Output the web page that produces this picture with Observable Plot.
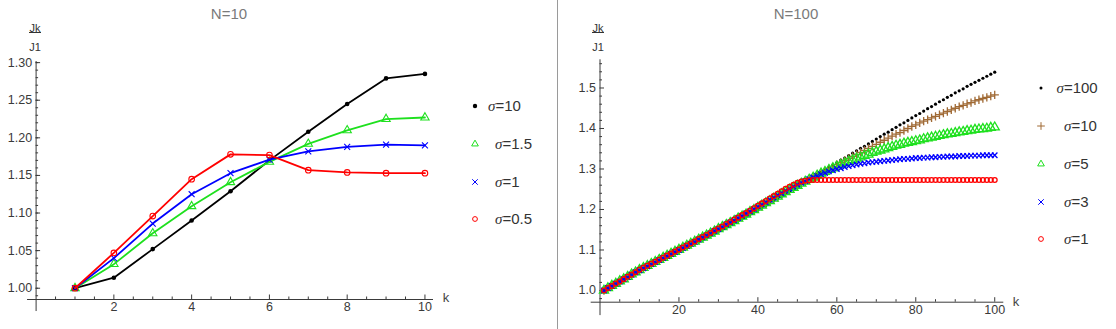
<!DOCTYPE html>
<html><head><meta charset="utf-8">
<script src="https://cdn.jsdelivr.net/npm/d3@7"></script>
<script src="https://cdn.jsdelivr.net/npm/@observablehq/plot@0.6"></script>
<style>
body{margin:0;background:#fff;}
#root{position:relative;width:1116px;height:329px;overflow:hidden;font-family:"Liberation Sans",Arial,sans-serif;background:#fff;}
.panel{position:absolute;top:0;}
.panel text{font-size:12.5px !important;}
.title{position:absolute;font-size:15px;color:#7a7a7a;transform:translate(-50%,-50%);white-space:nowrap;line-height:1;}
.fr{position:absolute;font-size:11px;color:#333;transform:translate(-50%,-50%);line-height:1;white-space:nowrap;}
.ul{position:absolute;height:1px;background:#333;}
.klab{position:absolute;font-size:13px;color:#444;transform:translate(-50%,-50%);line-height:1;}
.leg{position:absolute;font-size:15px;color:#333;line-height:1;transform:translateY(-50%);white-space:nowrap;}
.leg i{font-family:"Liberation Serif","DejaVu Serif",serif;}
.mk{position:absolute;}
.sep{position:absolute;left:557px;top:0;width:1px;height:329px;background:#9a9a9a;}
</style>
</head><body>
<div id="root"></div>
<script>
// ---------- DATA ----------
const kN10 = [1, 2, 3, 4, 5, 6, 7, 8, 9, 10];
const n10Sigma10  = [1.000, 1.014, 1.052, 1.090, 1.129, 1.170, 1.208, 1.245, 1.279, 1.285];
const n10Sigma1_5 = [1.000, 1.032, 1.073, 1.109, 1.141, 1.168, 1.192, 1.210, 1.225, 1.227];
const n10Sigma1   = [1.000, 1.040, 1.086, 1.125, 1.153, 1.171, 1.182, 1.188, 1.191, 1.190];
const n10Sigma0_5 = [1.000, 1.047, 1.096, 1.145, 1.178, 1.177, 1.157, 1.154, 1.153, 1.153];

const kN100 = d3.range(1, 101);
const n100Sigma100 = [
1.000,1.005,1.010,1.015,1.021,1.026,1.031,1.036,1.042,1.047,
1.052,1.057,1.062,1.067,1.071,1.076,1.081,1.086,1.091,1.096,
1.101,1.106,1.111,1.116,1.121,1.126,1.131,1.136,1.141,1.146,
1.151,1.156,1.162,1.167,1.172,1.178,1.183,1.188,1.194,1.199,
1.205,1.210,1.216,1.222,1.227,1.233,1.239,1.245,1.251,1.257,
1.263,1.269,1.275,1.281,1.287,1.292,1.298,1.304,1.310,1.316,
1.322,1.327,1.333,1.339,1.345,1.351,1.356,1.362,1.368,1.374,
1.380,1.386,1.391,1.397,1.403,1.409,1.414,1.420,1.426,1.432,
1.437,1.443,1.449,1.454,1.460,1.466,1.471,1.477,1.482,1.488,
1.493,1.498,1.504,1.509,1.514,1.519,1.524,1.529,1.534,1.539];
const n100Sigma10 = [
1.000,1.006,1.011,1.017,1.022,1.028,1.033,1.039,1.044,1.050,
1.055,1.060,1.065,1.070,1.075,1.080,1.085,1.090,1.095,1.100,
1.105,1.110,1.115,1.120,1.125,1.130,1.135,1.140,1.145,1.150,
1.155,1.160,1.166,1.171,1.176,1.181,1.187,1.192,1.197,1.203,
1.208,1.214,1.219,1.225,1.230,1.236,1.241,1.247,1.252,1.258,
1.263,1.268,1.274,1.279,1.284,1.290,1.295,1.300,1.305,1.311,
1.316,1.321,1.326,1.331,1.336,1.341,1.346,1.351,1.356,1.361,
1.366,1.371,1.376,1.381,1.386,1.390,1.395,1.400,1.405,1.409,
1.414,1.418,1.422,1.426,1.430,1.434,1.438,1.442,1.446,1.450,
1.454,1.457,1.461,1.464,1.468,1.471,1.474,1.477,1.480,1.483];
const n100Sigma5 = [
1.000,1.006,1.012,1.017,1.023,1.028,1.034,1.040,1.045,1.051,
1.056,1.061,1.066,1.071,1.076,1.081,1.086,1.091,1.096,1.101,
1.106,1.111,1.116,1.121,1.126,1.131,1.136,1.141,1.146,1.152,
1.157,1.162,1.167,1.172,1.178,1.183,1.188,1.194,1.199,1.205,
1.210,1.216,1.221,1.227,1.232,1.238,1.243,1.249,1.254,1.259,
1.264,1.269,1.274,1.279,1.284,1.289,1.293,1.298,1.302,1.306,
1.310,1.314,1.318,1.322,1.326,1.329,1.333,1.336,1.340,1.343,
1.346,1.349,1.352,1.355,1.358,1.360,1.363,1.365,1.367,1.369,
1.371,1.374,1.376,1.378,1.380,1.382,1.384,1.386,1.387,1.389,
1.391,1.392,1.394,1.395,1.397,1.398,1.399,1.400,1.402,1.403];
const n100Sigma3 = [
1.000,1.006,1.011,1.017,1.022,1.028,1.033,1.039,1.045,1.050,
1.055,1.060,1.065,1.070,1.075,1.080,1.085,1.090,1.095,1.100,
1.105,1.110,1.115,1.120,1.126,1.131,1.136,1.141,1.147,1.152,
1.157,1.163,1.168,1.173,1.179,1.184,1.190,1.195,1.201,1.207,
1.212,1.218,1.224,1.229,1.235,1.240,1.246,1.251,1.256,1.261,
1.266,1.270,1.275,1.279,1.283,1.287,1.290,1.294,1.297,1.300,
1.302,1.305,1.307,1.309,1.311,1.313,1.314,1.316,1.317,1.318,
1.319,1.320,1.321,1.322,1.323,1.324,1.325,1.325,1.326,1.327,
1.327,1.328,1.328,1.329,1.329,1.330,1.330,1.331,1.331,1.331,
1.332,1.332,1.332,1.333,1.333,1.333,1.334,1.334,1.334,1.334];
const n100Sigma1 = [
1.000,1.006,1.011,1.017,1.022,1.028,1.034,1.039,1.045,1.051,
1.056,1.061,1.066,1.071,1.076,1.081,1.086,1.091,1.096,1.101,
1.106,1.111,1.116,1.121,1.127,1.132,1.137,1.142,1.148,1.153,
1.158,1.164,1.169,1.175,1.180,1.186,1.191,1.197,1.203,1.209,
1.215,1.221,1.227,1.233,1.239,1.245,1.251,1.256,1.261,1.266,
1.269,1.271,1.272,1.273,1.273,1.273,1.273,1.273,1.273,1.273,
1.273,1.273,1.273,1.273,1.273,1.273,1.273,1.273,1.273,1.273,
1.273,1.273,1.273,1.273,1.273,1.273,1.273,1.273,1.273,1.273,
1.273,1.273,1.273,1.273,1.273,1.273,1.273,1.273,1.273,1.273,
1.273,1.273,1.273,1.273,1.273,1.273,1.273,1.273,1.273,1.273];

const n10Labels = ["10", "1.5", "1", "0.5"];
const n100Labels = ["100", "10", "5", "3", "1"];
const n10XTicks = [2, 4, 6, 8, 10];
const n10YTicks = [1.00, 1.05, 1.10, 1.15, 1.20, 1.25, 1.30];
const n100XTicks = [20, 40, 60, 80, 100];
const n100YTicks = [1.0, 1.1, 1.2, 1.3, 1.4, 1.5];

// ---------- STYLES ----------
const STY = {
  black: {color: "#000000", symbol: "circle", filled: true},
  brown: {color: "#a06a35", symbol: "plus"},
  green: {color: "#1ee01e", symbol: "triangle"},
  blue:  {color: "#0000ff", symbol: "times"},
  red:   {color: "#ff0000", symbol: "circle"}
};
const symMap = {circle: d3.symbolCircle, triangle: d3.symbolTriangle2, times: d3.symbolTimes, plus: d3.symbolPlus};

function rows(ks, vs) { return ks.map((k, i) => ({k, v: vs[i]})); }

function makePanel(cfg) {
  const fh = cfg.height - cfg.mt - cfg.mb;
  const fw = cfg.width - cfg.ml - cfg.mr;
  const ax = "#3a3a3a";
  const marks = [
    Plot.ruleY([cfg.xAxisAt], {x1: cfg.xExt[0], x2: cfg.xExt[1], stroke: ax, strokeWidth: 1}),
    Plot.ruleX([0], {y1: cfg.yExt[0], y2: cfg.yExt[1], stroke: ax, strokeWidth: 1}),
    Plot.tickX(cfg.xMinor, {x: d => d, insetTop: fh - 2.5, stroke: ax}),
    Plot.tickX(cfg.xMajor, {x: d => d, insetTop: fh - 4.5, stroke: ax}),
    Plot.tickY(cfg.yMinor, {y: d => d, insetRight: fw - 2.5, stroke: ax}),
    Plot.tickY(cfg.yMajor, {y: d => d, insetRight: fw - 4.5, stroke: ax}),
    Plot.axisX({ticks: cfg.xMajor, tickSize: 0, tickPadding: 3, label: null, color: "#3a3a3a", fontSize: 12.5}),
    Plot.axisY({ticks: cfg.yMajor, tickSize: 0, tickPadding: 4, label: null, color: "#3a3a3a", fontSize: 12.5, tickFormat: cfg.yFormat})
  ];
  for (const s of cfg.series) {
    const d = rows(cfg.ks, s.values);
    if (cfg.lines) marks.push(Plot.line(d, {x: "k", y: "v", stroke: s.style.color, strokeWidth: 1.8}));
    if (s.style.filled) {
      marks.push(Plot.dot(d, {x: "k", y: "v", r: s.r, fill: s.style.color, stroke: "none"}));
    } else {
      marks.push(Plot.dot(d, {x: "k", y: "v", r: s.r, symbol: s.style.symbol, fill: "none", stroke: s.style.color, strokeWidth: cfg.markerStroke}));
    }
  }
  const svg = Plot.plot({
    width: cfg.width, height: cfg.height,
    marginLeft: cfg.ml, marginRight: cfg.mr, marginTop: cfg.mt, marginBottom: cfg.mb,
    x: {domain: cfg.xDomain}, y: {domain: cfg.yDomain},
    style: {fontFamily: '"Liberation Sans", Arial, sans-serif', fontSize: "12.5px", background: "transparent", overflow: "visible"},
    marks
  });
  d3.select(svg).selectAll("text").attr("font-size", "12.5px").style("font-size", "12.5px");
  return svg;
}

const root = document.getElementById("root");

function place(el, left) { el.classList.add("panel"); el.style.left = left + "px"; root.appendChild(el); }

// Left panel N=10
const left = makePanel({
  width: 557, height: 329, ml: 35.6, mr: 124, mt: 61, mb: 30,
  xDomain: [0, 10.22], yDomain: [0.985, 1.3015],
  xAxisAt: 0.985, xExt: [-0.22, 10.22], yExt: [0.969, 1.3015],
  xMajor: n10XTicks, xMinor: d3.range(1, 21).map(i => i * 0.5).filter(v => v % 2 !== 0),
  yMajor: n10YTicks, yMinor: d3.range(99, 131).map(i => i / 100),
  yFormat: d3.format(".2f"), ks: kN10, lines: true, markerStroke: 1.1,
  series: [
    {values: n10Sigma10, style: STY.black, r: 2.3},
    {values: n10Sigma1_5, style: STY.green, r: 3.1},
    {values: n10Sigma1, style: STY.blue, r: 2.8},
    {values: n10Sigma0_5, style: STY.red, r: 2.8}
  ]
});
place(left, 0);

// Right panel N=100
const right = makePanel({
  width: 558, height: 329, ml: 41.5, mr: 112.7, mt: 59.3, mb: 27.3,
  xDomain: [0, 102.3], yDomain: [0.9711, 1.5696],
  xAxisAt: 0.9711, xExt: [-2.23, 102.3], yExt: [0.938, 1.5696],
  xMajor: n100XTicks, xMinor: d3.range(1, 21).map(i => i * 5).filter(v => v % 20 !== 0),
  yMajor: n100YTicks, yMinor: d3.range(49, 79).map(i => i / 50).filter(v => Math.abs(v * 10 - Math.round(v * 10)) > 1e-6),
  yFormat: d3.format(".1f"), ks: kN100, lines: false, markerStroke: 1.3,
  series: [
    {values: n100Sigma100, style: STY.black, r: 1.6},
    {values: n100Sigma10, style: STY.brown, r: 2.8},
    {values: n100Sigma5, style: STY.green, r: 3.4},
    {values: n100Sigma3, style: STY.blue, r: 2.6},
    {values: n100Sigma1, style: STY.red, r: 2.4}
  ]
});
place(right, 558);

// separator
const sep = document.createElement("div"); sep.className = "sep"; root.appendChild(sep);

function addDiv(cls, x, y, html) {
  const d = document.createElement("div"); d.className = cls;
  d.style.left = x + "px"; d.style.top = y + "px"; d.innerHTML = html; root.appendChild(d); return d;
}
// titles
addDiv("title", 229, 13, "N=10");
addDiv("title", 796, 13, "N=100");
// Jk/J1 labels
function frac(cx) {
  addDiv("fr", cx, 27.5, "Jk");
  const u = addDiv("ul", cx - 6, 32, ""); u.style.width = "12px";
  addDiv("fr", cx, 47, "J1");
}
frac(35);
frac(598);
addDiv("klab", 446, 297, "k");
addDiv("klab", 1016, 301, "k");

// legends
function marker(style, r, cx, cy) {
  const s = 16;
  const svg = d3.create("svg").attr("width", s).attr("height", s).attr("class", "mk")
    .style("left", (cx - s / 2) + "px").style("top", (cy - s / 2) + "px");
  const p = svg.append("path").attr("transform", `translate(${s / 2},${s / 2})`)
    .attr("d", d3.symbol(symMap[style.symbol], Math.PI * r * r)());
  if (style.filled) p.attr("fill", style.color);
  else p.attr("fill", "none").attr("stroke", style.color).attr("stroke-width", 1);
  root.appendChild(svg.node());
}
function legend(items) {
  for (const it of items) {
    marker(it.style, it.r, it.mx, it.y);
    addDiv("leg", it.tx, it.y, `<i>σ</i>=${it.label}`);
  }
}
legend([
  {label: n10Labels[0], style: STY.black, r: 2.2, mx: 474.7, tx: 488, y: 106},
  {label: n10Labels[1], style: STY.green, r: 3.2, mx: 474.5, tx: 495, y: 144},
  {label: n10Labels[2], style: STY.blue, r: 2.6, mx: 475, tx: 495, y: 182},
  {label: n10Labels[3], style: STY.red, r: 2.4, mx: 475, tx: 495, y: 219}
]);
legend([
  {label: n100Labels[0], style: STY.black, r: 1.5, mx: 1041, tx: 1056.5, y: 88},
  {label: n100Labels[1], style: STY.brown, r: 2.6, mx: 1041, tx: 1064, y: 126},
  {label: n100Labels[2], style: STY.green, r: 3.2, mx: 1041, tx: 1064, y: 164},
  {label: n100Labels[3], style: STY.blue, r: 2.6, mx: 1041, tx: 1064, y: 201.7},
  {label: n100Labels[4], style: STY.red, r: 2.4, mx: 1041, tx: 1064, y: 239.3}
]);
</script>
</body></html>
